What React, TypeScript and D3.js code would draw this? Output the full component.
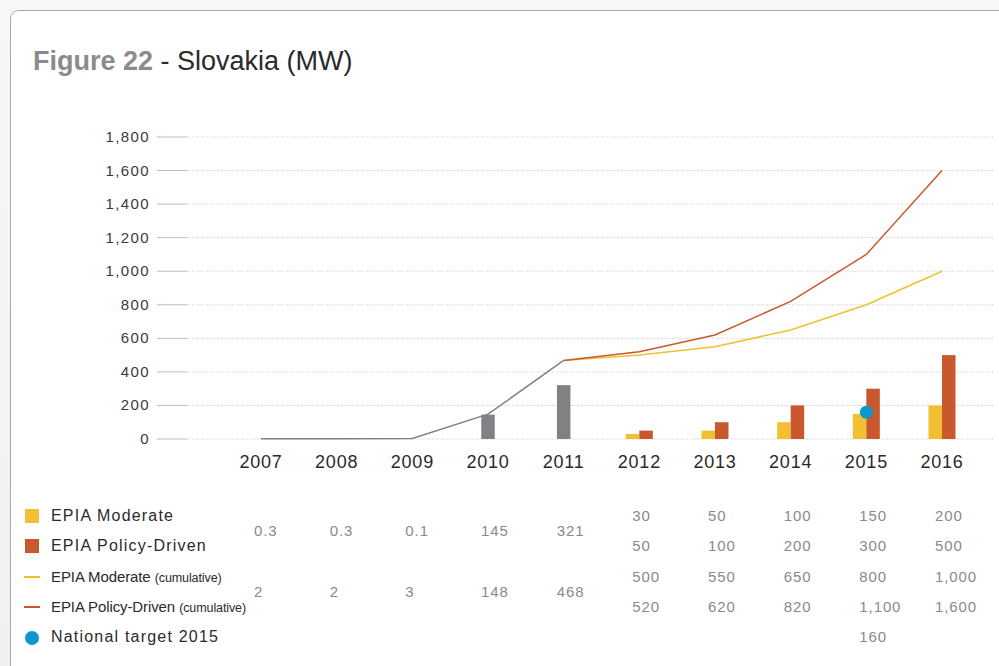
import React from "react";
import * as d3 from "d3";

// categories
const years = ["2007", "2008", "2009", "2010", "2011", "2012", "2013", "2014", "2015", "2016"];
const histYears = ["2007", "2008", "2009", "2010", "2011"];
const forecastYears = ["2012", "2013", "2014", "2015", "2016"];

// historic data (MW)
const histAnnual = [0.3, 0.3, 0.1, 145, 321];
const histCumulative = [2, 2, 3, 148, 468];

// EPIA scenarios
const moderateAnnual = [30, 50, 100, 150, 200];
const policyAnnual = [50, 100, 200, 300, 500];
const moderateCumulative = [500, 550, 650, 800, 1000];
const policyCumulative = [520, 620, 820, 1100, 1600];

// national target
const targetYear = "2015";
const targetValue = 160;

const yTicks = [0, 200, 400, 600, 800, 1000, 1200, 1400, 1600, 1800];

const GRAY = "#808184";
const YELLOW = "#f0c032";
const RED = "#c9582e";
const BLUE = "#0b97cf";
const FONT = "'Liberation Sans', Arial, sans-serif";

const App = () => {
  const width = 999;
  const height = 666;

  const x = d3.scalePoint<string>().domain(years).range([261, 942]);
  const y = d3.scaleLinear().domain([0, 1800]).range([439, 137]);
  const barW = 13.5;
  const fmt = d3.format(",");

  const line = d3
    .line<[string, number]>()
    .x((d) => x(d[0])!)
    .y((d) => y(d[1]));

  // cumulative lines start from last historic point
  const lastHist: [string, number] = ["2011", histCumulative[histCumulative.length - 1]];
  const histLine = histYears.map((yr, i) => [yr, histCumulative[i]] as [string, number]);
  const modLine = [lastHist, ...forecastYears.map((yr, i) => [yr, moderateCumulative[i]] as [string, number])];
  const polLine = [lastHist, ...forecastYears.map((yr, i) => [yr, policyCumulative[i]] as [string, number])];

  // table rows
  const rowY = [516, 546, 577, 607, 637];
  const colX = (yr: string) => x(yr)! - 7;

  return (
    <div style={{ position: "fixed", left: 0, top: 0 }}>
      <svg width={width} height={height} style={{ display: "block" }}>
        <defs>
          <linearGradient id="bg" x1="0" y1="0" x2="0" y2="1">
            <stop offset="0" stopColor="#f7f7f7" />
            <stop offset="1" stopColor="#f0f0f0" />
          </linearGradient>
        </defs>
        <rect width={width} height={height} fill="url(#bg)" />
        <rect x={10.5} y={10.5} width={1100} height={800} rx={8} fill="#fff" stroke="#a8a8a8" />

        {/* title */}
        <text x={33} y={70} fontFamily={FONT} fontSize={27}>
          <tspan fill="#8a8b8d" fontWeight="bold">Figure 22</tspan>
          <tspan fill="#2a2a2a"> - Slovakia (MW)</tspan>
        </text>

        {/* y axis + grid */}
        {yTicks.map((t) => (
          <g key={t}>
            <line x1={157} x2={187} y1={y(t)} y2={y(t)} stroke="#bdbdbd" strokeWidth={1} />
            <line x1={187} x2={994} y1={y(t)} y2={y(t)} stroke="#c8c8c8" strokeWidth={1} strokeDasharray="1,1.5" />
            <text x={150} y={y(t) + 5} textAnchor="end" fontFamily={FONT} fontSize={15} fill="#3a3a3a" letterSpacing={1.4}>
              {fmt(t)}
            </text>
          </g>
        ))}

        {/* historic bars */}
        {histYears.map((yr, i) => (
          <rect key={yr} x={x(yr)! - barW / 2} y={y(histAnnual[i])} width={barW} height={y(0) - y(histAnnual[i])} fill={GRAY} />
        ))}

        {/* scenario bars */}
        {forecastYears.map((yr, i) => (
          <g key={yr}>
            <rect x={x(yr)! - barW} y={y(moderateAnnual[i])} width={barW} height={y(0) - y(moderateAnnual[i])} fill={YELLOW} />
            <rect x={x(yr)!} y={y(policyAnnual[i])} width={barW} height={y(0) - y(policyAnnual[i])} fill={RED} />
          </g>
        ))}

        {/* cumulative lines */}
        <path d={line(histLine)!} fill="none" stroke={GRAY} strokeWidth={1.5} />
        <path d={line(modLine)!} fill="none" stroke={YELLOW} strokeWidth={1.5} />
        <path d={line(polLine)!} fill="none" stroke={RED} strokeWidth={1.5} />

        {/* target */}
        <circle cx={x(targetYear)!} cy={y(targetValue)} r={6.5} fill={BLUE} />

        {/* x labels */}
        {years.map((yr) => (
          <text key={yr} x={x(yr)!} y={468} textAnchor="middle" fontFamily={FONT} fontSize={18} fill="#2a2a2a" letterSpacing={0.8}>
            {yr}
          </text>
        ))}

        {/* legend */}
        <rect x={25} y={509} width={14} height={14} fill={YELLOW} />
        <rect x={25} y={539} width={14} height={14} fill={RED} />
        <line x1={24} x2={40} y1={577} y2={577} stroke={YELLOW} strokeWidth={2} />
        <line x1={24} x2={40} y1={607} y2={607} stroke={RED} strokeWidth={2} />
        <circle cx={32} cy={638} r={7} fill={BLUE} />

        <text x={51} y={rowY[0] + 5} fontFamily={FONT} fontSize={16} fill="#2a2a2a" letterSpacing={1.2}>EPIA Moderate</text>
        <text x={51} y={rowY[1] + 5} fontFamily={FONT} fontSize={16} fill="#2a2a2a" letterSpacing={1.2}>EPIA Policy-Driven</text>
        <text x={51} y={rowY[2] + 5} fontFamily={FONT} fontSize={15} fill="#2a2a2a" letterSpacing={-0.1}>
          EPIA Moderate <tspan fontSize={12.5}>(cumulative)</tspan>
        </text>
        <text x={51} y={rowY[3] + 5} fontFamily={FONT} fontSize={15} fill="#2a2a2a" letterSpacing={-0.1}>
          EPIA Policy-Driven <tspan fontSize={12.5}>(cumulative)</tspan>
        </text>
        <text x={51} y={rowY[4] + 5} fontFamily={FONT} fontSize={16} fill="#2a2a2a" letterSpacing={1.2}>National target 2015</text>

        {/* table values */}
        <g fontFamily={FONT} fontSize={15} fill="#8a8a8a" letterSpacing={0.9}>
          {histYears.map((yr, i) => (
            <g key={yr}>
              <text x={colX(yr)} y={(rowY[0] + rowY[1]) / 2 + 5}>{fmt(histAnnual[i])}</text>
              <text x={colX(yr)} y={(rowY[2] + rowY[3]) / 2 + 5}>{fmt(histCumulative[i])}</text>
            </g>
          ))}
          {forecastYears.map((yr, i) => (
            <g key={yr}>
              <text x={colX(yr)} y={rowY[0] + 5}>{fmt(moderateAnnual[i])}</text>
              <text x={colX(yr)} y={rowY[1] + 5}>{fmt(policyAnnual[i])}</text>
              <text x={colX(yr)} y={rowY[2] + 5}>{fmt(moderateCumulative[i])}</text>
              <text x={colX(yr)} y={rowY[3] + 5}>{fmt(policyCumulative[i])}</text>
            </g>
          ))}
          <text x={colX(targetYear)} y={rowY[4] + 5}>{fmt(targetValue)}</text>
        </g>
      </svg>
    </div>
  );
};

export default App;
